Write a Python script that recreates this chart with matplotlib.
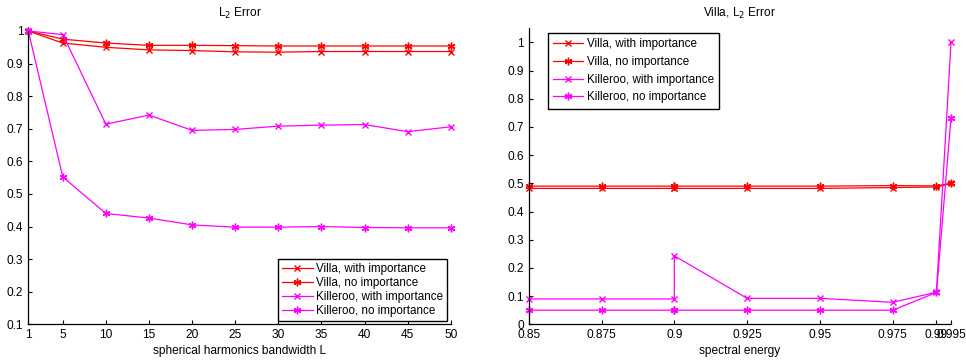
import numpy as np
import matplotlib
matplotlib.use("Agg")
from matplotlib import pyplot as plt

plt.rcParams['font.family'] = ['Liberation Sans', 'DejaVu Sans']
plt.rcParams['font.size'] = 8.6

# left panel: error vs bandwidth L
bandwidth = [1, 5, 10, 15, 20, 25, 30, 35, 40, 45, 50]
villa_imp_L = [1.0, 0.963, 0.950, 0.942, 0.940, 0.936, 0.935, 0.937, 0.937, 0.937, 0.937]
villa_noimp_L = [1.0, 0.975, 0.963, 0.956, 0.956, 0.955, 0.954, 0.954, 0.954, 0.954, 0.954]
killeroo_imp_L = [1.0, 0.989, 0.714, 0.742, 0.695, 0.698, 0.708, 0.711, 0.713, 0.691, 0.706]
killeroo_noimp_L = [1.0, 0.552, 0.440, 0.426, 0.405, 0.398, 0.398, 0.400, 0.397, 0.396, 0.396]

# right panel: error vs spectral energy (0.9 appears twice)
energy = [0.85, 0.875, 0.9, 0.9, 0.925, 0.95, 0.975, 0.99, 0.995]
energy_ticks = [0.85, 0.875, 0.9, 0.925, 0.95, 0.975, 0.99, 0.995]
villa_imp_E = [0.482, 0.482, 0.482, 0.482, 0.482, 0.482, 0.485, 0.487, 0.500]
villa_noimp_E = [0.490, 0.490, 0.490, 0.490, 0.490, 0.490, 0.492, 0.491, 0.500]
killeroo_imp_E = [0.090, 0.090, 0.090, 0.243, 0.092, 0.092, 0.078, 0.114, 1.0]
killeroo_noimp_E = [0.050, 0.050, 0.050, 0.050, 0.050, 0.050, 0.050, 0.113, 0.733]

labels = ['Villa, with importance', 'Villa, no importance',
          'Killeroo, with importance', 'Killeroo, no importance']
colors = ['#ff0000', '#ff0000', '#ff00ff', '#ff00ff']
# (6, 2, 0) = six-armed asterisk like the matlab '*'
markers = ['x', (6, 2, 0), 'x', (6, 2, 0)]
msizes = [4.5, 5.5, 4.5, 5.5]


def style_axes(ax):
    ax.spines['top'].set_visible(False)
    ax.spines['right'].set_visible(False)
    ax.tick_params(direction='in', length=3, width=0.8, labelsize=8.6)
    for s in ('left', 'bottom'):
        ax.spines[s].set_linewidth(0.9)


fig = plt.figure(figsize=(9.66, 3.6), dpi=100)
ax1 = fig.add_axes([0.0293, 0.0992, 0.4373, 0.8147])
ax2 = fig.add_axes([0.5473, 0.0992, 0.4372, 0.8222])

for ys, lab, c, m, ms in zip([villa_imp_L, villa_noimp_L, killeroo_imp_L, killeroo_noimp_L],
                             labels, colors, markers, msizes):
    ax1.plot(bandwidth, ys, color=c, marker=m, markersize=ms, linewidth=0.9,
             markeredgewidth=1.0, label=lab, clip_on=False)
ax1.set_xlim(1, 50)
ax1.set_ylim(0.1, 1.0)
ax1.set_xticks(bandwidth)
ax1.set_yticks(np.round(np.arange(0.1, 1.01, 0.1), 1))
ax1.set_yticklabels(['0.1', '0.2', '0.3', '0.4', '0.5', '0.6', '0.7', '0.8', '0.9', '1'])
ax1.set_xlabel('spherical harmonics bandwidth L', labelpad=3)
ax1.set_title('L$_2$ Error', fontsize=8.6, pad=10)
style_axes(ax1)
leg1 = ax1.legend(loc='lower right', fancybox=False, edgecolor='black', framealpha=1,
                  fontsize=8.4, handlelength=2.6, borderpad=0.35, labelspacing=0.15,
                  handletextpad=0.3, borderaxespad=0.3)
leg1.get_frame().set_linewidth(1.0)

for ys, lab, c, m, ms in zip([villa_imp_E, villa_noimp_E, killeroo_imp_E, killeroo_noimp_E],
                             labels, colors, markers, msizes):
    ax2.plot(energy, ys, color=c, marker=m, markersize=ms, linewidth=0.9,
             markeredgewidth=1.0, label=lab, clip_on=False)
ax2.set_xlim(0.85, 0.995)
ax2.set_ylim(0, 1.05)
ax2.set_xticks(energy_ticks)
ax2.set_xticklabels(['0.85', '0.875', '0.9', '0.925', '0.95', '0.975', '0.99', '0.995'])
ax2.set_yticks(np.round(np.arange(0, 1.01, 0.1), 1))
ax2.set_yticklabels(['0', '0.1', '0.2', '0.3', '0.4', '0.5', '0.6', '0.7', '0.8', '0.9', '1'])
ax2.set_xlabel('spectral energy', labelpad=3)
ax2.set_title('Villa, L$_2$ Error', fontsize=8.6, pad=8)
style_axes(ax2)
leg2 = ax2.legend(loc='upper left', fancybox=False, edgecolor='black', framealpha=1,
                  fontsize=8.4, handlelength=2.6, borderpad=0.45, labelspacing=0.5,
                  handletextpad=0.3, borderaxespad=0.0, bbox_to_anchor=(0.045, 0.985))
leg2.get_frame().set_linewidth(1.0)

fig.savefig('out.png', dpi=100)
